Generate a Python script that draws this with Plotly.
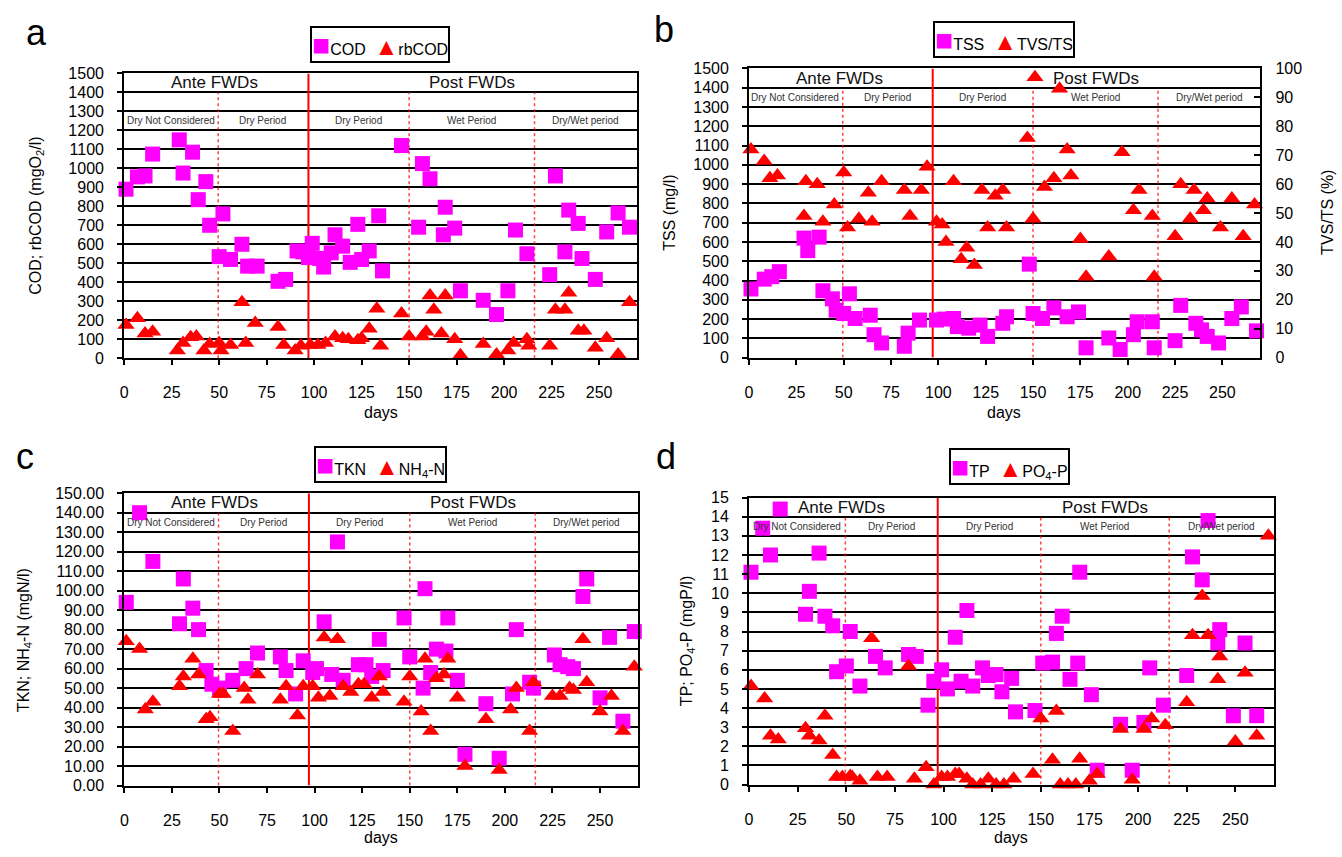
import plotly.graph_objects as go

W, H = 1342, 857

# ---------------- data ----------------
# panel a
cod_days = [1, 7, 11, 15, 29, 31, 36, 39, 43, 45, 50, 52, 56, 62, 65, 70, 81, 85, 91, 94,
            97, 99, 103, 105, 109, 111, 115, 119, 123, 125, 129, 134, 136, 146, 155, 157, 161, 168, 169, 174,
            177, 189, 196, 202, 206, 212, 224, 227, 232, 234, 239, 241, 248, 254, 260, 266]
cod_vals = [890, 955, 960, 1075, 1150, 975, 1085, 835, 930, 700, 535, 760, 520, 600, 485, 485, 405, 415, 565, 560,
            530, 605, 525, 480, 555, 650, 590, 505, 705, 520, 565, 750, 460, 1120, 690, 1025, 945, 650, 795, 685,
            355, 305, 230, 355, 675, 550, 440, 960, 560, 780, 710, 525, 415, 665, 765, 690]
rbcod_days = [1, 7, 11, 15, 28, 31, 35, 38, 42, 45, 50, 51, 56, 62, 64, 69, 81, 84, 90, 93,
              98, 102, 106, 111, 115, 118, 123, 125, 129, 133, 135, 146, 150, 157, 159, 161, 163, 167, 169, 174,
              177, 189, 196, 202, 205, 212, 213, 224, 227, 232, 234, 239, 242, 248, 254, 260, 266]
rbcod_vals = [175, 210, 130, 140, 40, 80, 110, 115, 40, 75, 80, 40, 70, 295, 80, 185, 165, 70, 40, 65,
              70, 70, 80, 115, 105, 100, 95, 105, 155, 260, 65, 235, 115, 115, 140, 330, 255, 130, 330, 100,
              15, 75, 20, 40, 80, 100, 65, 65, 255, 255, 345, 145, 145, 55, 105, 20, 295]

# panel b
tss_days = [1, 8, 12, 16, 29, 31, 37, 39, 44, 46, 50, 53, 56, 64, 66, 70, 82, 84, 90, 99,
            103, 108, 110, 116, 122, 126, 134, 136, 148, 150, 155, 161, 168, 174, 178, 190, 196, 203, 205, 213,
            214, 225, 228, 236, 239, 242, 248, 255, 260, 268]
tss_vals = [356, 407, 420, 446, 620, 555, 625, 347, 305, 246, 229, 331, 203, 220, 119, 76, 59, 127, 195, 195,
            200, 203, 161, 153, 169, 110, 178, 212, 485, 229, 203, 258, 212, 237, 51, 102, 42, 119, 186, 186,
            51, 88, 271, 178, 144, 110, 76, 203, 263, 139]
tvs_days = [1, 8, 11, 15, 30, 36, 29, 39, 45, 50, 52, 58, 63, 65, 70, 82, 85, 91, 94, 99,
            102, 104, 108, 112, 115, 119, 123, 126, 130, 134, 136, 147, 150, 151, 156, 161, 164, 168, 170, 175,
            178, 190, 197, 203, 206, 213, 214, 225, 228, 233, 235, 240, 242, 249, 255, 261, 267]
tvs_vals = [72, 68, 62, 63, 61, 60, 49, 47, 53, 64, 45, 48, 57, 47, 61, 58, 49, 58, 66, 47,
            46, 40, 61, 34, 38, 32, 58, 45, 56, 58, 45, 76, 48, 97, 59, 62, 93, 72, 63, 41,
            28, 35, 71, 51, 58, 49, 28, 42, 60, 48, 58, 51, 55, 45, 55, 42, 53]

# panel c
tkn_days = [1, 8, 15, 29, 31, 36, 39, 43, 46, 50, 57, 64, 70, 82, 85, 90, 94, 99, 101, 105,
            109, 112, 115, 123, 127, 130, 134, 136, 147, 150, 157, 158, 161, 164, 169, 170, 175, 179, 190, 197,
            204, 206, 213, 215, 226, 229, 233, 236, 241, 243, 250, 255, 262, 268]
tkn_vals = [94, 140, 115, 83, 106, 91, 80, 59, 52, 50, 54, 60, 68, 66, 59, 47, 64, 58, 60, 84,
            57, 125, 54, 62, 62, 56, 75, 59, 86, 66, 50, 101, 58, 70, 69, 86, 54, 16, 42, 14,
            47, 80, 53, 50, 67, 62, 61, 60, 97, 106, 45, 76, 33, 79]
nh4_days = [1, 8, 11, 15, 29, 31, 36, 39, 43, 45, 50, 52, 57, 63, 65, 70, 82, 85, 91, 94,
            99, 102, 105, 108, 112, 115, 119, 123, 126, 130, 134, 136, 147, 150, 156, 158, 161, 164, 168, 170,
            175, 179, 190, 197, 203, 206, 213, 215, 225, 229, 234, 236, 241, 243, 250, 256, 262, 268]
nh4_vals = [74, 70, 39, 43, 51, 56, 65, 57, 34, 35, 47, 47, 28, 50, 44, 57, 44, 51, 36, 51,
            51, 45, 76, 46, 75, 51, 48, 52, 52, 45, 56, 48, 43, 56, 38, 65, 28, 55, 57, 65,
            45, 10, 34, 8, 39, 50, 28, 53, 46, 46, 50, 49, 75, 53, 38, 46, 28, 61]

# panel d
tp_days = [1, 7, 11, 16, 29, 31, 36, 39, 43, 45, 50, 52, 57, 65, 70, 82, 86, 92, 95, 99,
           102, 106, 109, 112, 115, 120, 123, 127, 130, 135, 137, 147, 151, 156, 158, 161, 165, 169, 170, 176,
           179, 191, 197, 203, 206, 213, 225, 228, 233, 236, 241, 242, 249, 255, 261]
tp_vals = [11.1, 13.4, 12.0, 14.4, 8.9, 10.1, 12.1, 8.8, 8.3, 5.9, 6.2, 8.0, 5.15, 6.7, 6.1, 6.8, 6.7, 4.15, 5.4, 6.0,
           5.0, 7.7, 5.4, 9.1, 5.15, 6.1, 5.7, 5.75, 4.85, 5.55, 3.8, 3.87, 6.35, 6.4, 7.9, 8.8, 5.5, 6.35, 11.1, 4.7,
           0.75, 3.15, 0.75, 3.25, 6.1, 4.15, 5.7, 11.9, 10.7, 13.8, 7.4, 8.1, 3.6, 7.4, 3.6]
po4_days = [1, 8, 11, 15, 29, 31, 36, 39, 43, 45, 48, 52, 53, 57, 63, 66, 71, 82, 85, 91,
            95, 99, 102, 106, 108, 112, 115, 119, 123, 127, 131, 136, 146, 150, 156, 158, 160, 164, 168, 170,
            175, 179, 191, 197, 203, 207, 214, 225, 228, 233, 236, 241, 242, 250, 255, 261, 267]
po4_vals = [5.15, 4.5, 2.55, 2.35, 2.95, 2.55, 2.3, 3.6, 1.55, 0.4, 0.4, 0.45, 0.4, 0.2, 7.65, 0.4, 0.4, 6.2, 0.3, 0.9,
            0, 0.4, 0.4, 0.55, 0.55, 0.3, 0, 0, 0.3, 0, 0, 0.3, 0.55, 3.45, 1.3, 3.85, 0, 0, 0, 1.35,
            0.2, 0.55, 2.9, 0.25, 2.9, 3.45, 3.1, 4.3, 7.8, 9.85, 7.8, 5.5, 6.7, 2.25, 5.85, 2.55, 13.0]

x_ticks = [0, 25, 50, 75, 100, 125, 150, 175, 200, 225, 250]
period_bounds = [49.5, 150, 216]      # dotted separators
fwd_start = 97                        # solid separator (FWDs start)
period_labels = ["Dry Not Considered", "Dry Period", "Dry Period", "Wet Period", "Dry/Wet period"]
period_centers = [24.5, 73, 123.5, 183, 243]
phase_labels = ["Ante FWDs", "Post FWDs"]
phase_centers = [47.5, 183]

# ---------------- styling ----------------
FONT = "Liberation Sans, Arial, sans-serif"
MAG = "#FF00FF"
RED = "#FF0000"


def px(v):
    return v / W


def py(v):
    return 1 - v / H


fig = go.Figure()

panels = [
    dict(xa="x", ya="y", xd=(120.5, 635), yd=(66.7, 357.3), ymax=1500, dtick=100, fmt="d",
         ply=1250, sep_top=1400,
         sq=("COD", cod_days, cod_vals), tr=("rbCOD", rbcod_days, rbcod_vals), tr_axis="y",
         leg=(377, 37)),
    dict(xa="x2", ya="y2", xd=(747.3, 1260), yd=(61.7, 356.7), ymax=1500, dtick=100, fmt="d",
         ply=1350, sep_top=1400,
         sq=("TSS", tss_days, tss_vals), tr=("TVS/TS", tvs_days, tvs_vals), tr_axis="y5",
         leg=(1003, 32)),
    dict(xa="x3", ya="y3", xd=(120.7, 636), yd=(495, 793.3), ymax=150, dtick=10, fmt=".2f",
         ply=135, sep_top=140,
         sq=("TKN", tkn_days, tkn_vals), tr=("NH<sub>4</sub>-N", nh4_days, nh4_vals), tr_axis="y3",
         leg=(378, 466)),
    dict(xa="x4", ya="y4", xd=(747.3, 1274), yd=(499.5, 792.3), ymax=15, dtick=1, fmt="d",
         ply=13.5, sep_top=14,
         sq=("TP", tp_days, tp_vals), tr=("PO<sub>4</sub>-P", po4_days, po4_vals), tr_axis="y4",
         leg=(1009, 468)),
]

shapes = []
annotations = []
layout_axes = {}

for i, p in enumerate(panels):
    n = "" if i == 0 else str(i + 1)
    layout_axes["xaxis" + n] = dict(
        domain=[px(p["xd"][0]), px(p["xd"][1])], anchor=p["ya"], range=[0, 270],
        tickmode="array", tickvals=x_ticks, ticks="outside", ticklen=5, tickwidth=2, tickcolor="black",
        showline=True, linecolor="black", linewidth=2, mirror=True, showgrid=False, zeroline=False,
        tickfont=dict(family=FONT, size=16, color="black"), ticklabelstandoff=14,
    )
    layout_axes["yaxis" + n] = dict(
        domain=[py(p["yd"][1]), py(p["yd"][0])], anchor=p["xa"], range=[0, p["ymax"]],
        tickmode="linear", tick0=0, dtick=p["dtick"], tickformat=p["fmt"],
        ticks="outside", ticklen=5, tickwidth=2, tickcolor="black",
        showline=True, linecolor="black", linewidth=2, mirror=True,
        showgrid=True, gridcolor="black", gridwidth=2, zeroline=False,
        tickfont=dict(family=FONT, size=16, color="black"), ticklabelstandoff=10,
    )

    sq_name, sq_x, sq_y = p["sq"]
    tr_name, tr_x, tr_y = p["tr"]
    fig.add_trace(go.Scatter(x=sq_x, y=sq_y, mode="markers", name=sq_name, xaxis=p["xa"], yaxis=p["ya"],
                             showlegend=False, cliponaxis=False,
                             marker=dict(symbol="square", size=15, color=MAG, line=dict(width=0))))
    fig.add_trace(go.Scatter(x=tr_x, y=tr_y, mode="markers", name=tr_name, xaxis=p["xa"], yaxis=p["tr_axis"],
                             showlegend=False, cliponaxis=False,
                             marker=dict(symbol="triangle-up", size=15, color=RED, line=dict(width=0))))

    # separators
    shapes.append(dict(type="line", xref=p["xa"], yref=p["ya"], x0=fwd_start, x1=fwd_start, y0=0, y1=p["ymax"],
                       line=dict(color=RED, width=2), layer="between"))
    for b in period_bounds:
        shapes.append(dict(type="line", xref=p["xa"], yref=p["ya"], x0=b, x1=b, y0=0, y1=p["sep_top"],
                           line=dict(color="rgba(255,0,0,0.75)", width=1.5, dash="dot"), layer="between"))

    # texts inside plot
    for lab, cx in zip(phase_labels, phase_centers):
        annotations.append(dict(x=cx, y=(p["ymax"] + p["sep_top"]) / 2, xref=p["xa"], yref=p["ya"], text=lab,
                                xanchor="center", yanchor="middle",
                                showarrow=False, font=dict(family=FONT, size=17, color="#111")))
    for lab, cx in zip(period_labels, period_centers):
        annotations.append(dict(x=cx, y=p["ply"], xref=p["xa"], yref=p["ya"], text=lab,
                                xanchor="center", yanchor="middle",
                                showarrow=False, font=dict(family=FONT, size=10, color="#333")))

    # legend box (series names with their marker glyphs)
    leg_text = ('<span style="color:%s;font-size:30px">■</span>%s&nbsp;&nbsp;'
                '<span style="color:%s;font-size:24px">▲</span>%s') % (MAG, sq_name, RED, tr_name)
    annotations.append(dict(x=px(p["leg"][0]), y=py(p["leg"][1]), xref="paper", yref="paper", text=leg_text,
                            xanchor="center", yanchor="middle", showarrow=False, bgcolor="white",
                            bordercolor="black", borderwidth=2, borderpad=0,
                            font=dict(family=FONT, size=16, color="black")))

# right axis of panel b
layout_axes["yaxis5"] = dict(
    overlaying="y2", side="right", anchor="x2", range=[0, 100], tickmode="linear", tick0=0, dtick=10,
    ticks="inside", ticklen=6, tickwidth=2, tickcolor="black", showline=True, linecolor="black", linewidth=2,
    showgrid=False, zeroline=False, tickfont=dict(family=FONT, size=16, color="black"), ticklabelstandoff=10,
)

# panel letters
for lab, x, y in [("a", 33, 25), ("b", 662, 22), ("c", 21, 458), ("d", 664, 458)]:
    annotations.append(dict(x=px(x), y=py(y), xref="paper", yref="paper", text=lab, showarrow=False,
                            xanchor="center", yanchor="middle",
                            font=dict(family=FONT, size=36, color="black")))

# axis titles
ytitles = [
    ("COD; rbCOD (mgO<sub>2</sub>/l)", 33, 212),
    ("TSS (mg/l)", 668, 209),
    ("TVS/TS (%)", 1328, 209),
    ("TKN; NH<sub>4</sub>-N (mgN/l)", 20, 645),
    ("TP; PO<sub>4</sub>-P (mgP/l)", 685, 646),
]
for t, x, y in ytitles:
    annotations.append(dict(x=px(x), y=py(y), xref="paper", yref="paper", text=t, textangle=-90,
                            xanchor="center", yanchor="middle",
                            showarrow=False, font=dict(family=FONT, size=16, color="black")))
for x, y in [(378, 413), (1003, 413), (378, 846), (1010, 846)]:
    annotations.append(dict(x=px(x), y=py(y), xref="paper", yref="paper", text="days",
                            xanchor="center", yanchor="middle",
                            showarrow=False, font=dict(family=FONT, size=16, color="black")))

fig.update_layout(
    width=W, height=H, margin=dict(l=0, r=0, t=0, b=0, pad=0),
    paper_bgcolor="white", plot_bgcolor="white", showlegend=False,
    shapes=shapes, annotations=annotations,
    font=dict(family=FONT, color="black"),
    **layout_axes,
)

fig.write_html("out.html")
